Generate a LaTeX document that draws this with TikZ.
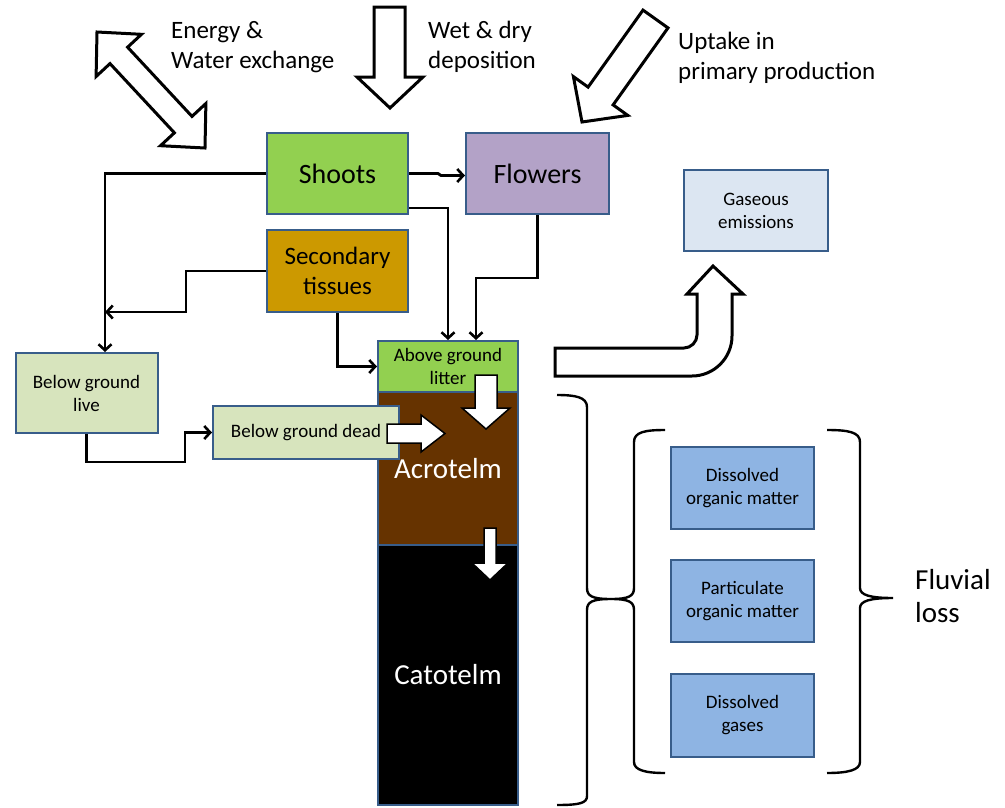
\documentclass[tikz,border=0pt]{standalone}
\usepackage{fontspec}
\setmainfont{Carlito}
\usetikzlibrary{arrows.meta,calc}
\definecolor{bordc}{RGB}{56,93,138}
\definecolor{shootg}{RGB}{146,208,80}
\definecolor{flowc}{RGB}{179,162,199}
\definecolor{secc}{RGB}{204,153,0}
\definecolor{gasc}{RGB}{220,230,242}
\definecolor{bgc}{RGB}{215,228,189}
\definecolor{acroc}{RGB}{102,51,0}
\definecolor{fluvc}{RGB}{142,180,227}
\tikzset{
  box/.style={draw=bordc, line width=2pt, inner sep=0pt, align=center, text=black},
  bigtxt/.style={font=\fontsize{28}{33}\selectfont},
  medtxt/.style={font=\fontsize{25}{30}\selectfont},
  smalltxt/.style={font=\fontsize{19}{23}\selectfont},
  conn/.style={draw=black, line width=2.8pt, -{Straight Barb[length=6pt,width=13pt,line width=2.6pt]}},
  blockarrow/.style={draw=black, fill=white, line width=3pt, line join=miter},
  whitearrow/.style={draw=black, fill=white, line width=1.5pt, line join=miter},
  bracestyle/.style={draw=black, line width=2.4pt},
  lbl/.style={anchor=west, align=left, inner sep=0pt, font=\fontsize{25}{30}\selectfont}
}
\begin{document}
\begin{tikzpicture}[x=1pt,y=-1pt]
\useasboundingbox (0,0) rectangle (1005,807);

% --- top plant boxes
\node[box, bigtxt, fill=shootg, minimum width=141pt, minimum height=81pt] (shoots) at (337.5,173.5) {Shoots};
\node[box, bigtxt, fill=flowc, minimum width=143pt, minimum height=81pt] (flowers) at (537.5,173.5) {Flowers};
\node[box, medtxt, fill=secc, minimum width=141pt, minimum height=82pt] (sec) at (337.5,271) {Secondary\\tissues};
\node[box, smalltxt, fill=gasc, minimum width=144pt, minimum height=81pt] (gas) at (756,210.5) {Gaseous\\emissions};
\node[box, smalltxt, fill=bgc, minimum width=142pt, minimum height=80pt] (bgl) at (86.5,393) {Below ground\\live};

% --- peat column
\node[box, fill=acroc, text=white, font=\fontsize{29}{34}\selectfont, minimum width=140pt, minimum height=153pt] (acro) at (448,468.5) {\raisebox{-4pt}{Acrotelm}};
\node[box, fill=black, text=white, font=\fontsize{29}{34}\selectfont, minimum width=140pt, minimum height=260pt] (cato) at (448,675) {Catotelm};
\node[box, smalltxt, fill=shootg, minimum width=140pt, minimum height=51pt] (litter) at (448,366.5) {Above ground\\litter};
\node[box, smalltxt, fill=bgc, minimum width=186pt, minimum height=53pt] (bgd) at (306,432.5) {Below ground dead};

% --- fluvial boxes
\node[box, smalltxt, fill=fluvc, minimum width=143pt, minimum height=82pt] (dom) at (742.5,488) {Dissolved\\organic matter};
\node[box, smalltxt, fill=fluvc, minimum width=143pt, minimum height=82pt] (pom) at (742.5,601) {Particulate\\organic matter};
\node[box, smalltxt, fill=fluvc, minimum width=143pt, minimum height=83pt] (dg) at (742.5,715.5) {Dissolved\\gases};

% --- labels
\node[lbl] (lenergy) at (171,47) {Energy \&\\Water exchange};
\node[lbl] (lwet) at (428,47) {Wet \& dry\\deposition};
\node[lbl] (luptake) at (678,57.5) {Uptake in\\primary production};
\node[anchor=west, align=left, inner sep=0pt, font=\fontsize{29}{33}\selectfont] (lfluv) at (915,596.5) {Fluvial\\loss};

% --- connectors
\coordinate (jl) at (105,0);
\coordinate (js) at (186,0);
\draw[conn] (shoots.west) -| (jl |- bgl.north);
\draw[conn] (sec.west) -| (js |- 0,312) -- (jl |- 0,312);
\draw[conn] (shoots.east) -- ++(29,0) -- ++(3,2) -- ($(flowers.west)+(0,2)$);
\draw[conn] ($(shoots.east)+(0,34.5)$) -| (litter.north);
\draw[conn] (flowers.south) -- ++(0,63) -| ($(litter.north)+(28,0)$);
\draw[conn] (sec.south) |- (litter.west);
\draw[conn] (bgl.south) -- ++(0,28) -| ($(bgd.west)+(-27,0)$) -- (bgd.west);

% --- white arrows inside the column
\draw[whitearrow] (475,375) -- (497,375) -- (497,408) -- (510,408) -- (486,429) -- (462,408) -- (475,408) -- cycle;
\draw[whitearrow] (387,424) -- (421,424) -- (421,415) -- (445,433.5) -- (421,452) -- (421,443) -- (387,443) -- cycle;
\draw[whitearrow] (484,528) -- (496,528) -- (496,563) -- (508,563) -- (490,580) -- (472,563) -- (484,563) -- cycle;

% --- big outlined arrows
\draw[blockarrow] (97,32) -- (141.5,34.3) -- (127.6,47.2) -- (192,116.4) -- (205.9,103.5) -- (205,148) -- (160.5,145.7) -- (174.4,132.8) -- (110,63.6) -- (96.1,76.5) -- cycle;
\draw[blockarrow] (374,7) -- (405,7) -- (405,77) -- (423,77) -- (390,108) -- (357,77) -- (374,77) -- cycle;
\draw[blockarrow] (643,10.1) -- (668,27.9) -- (613.1,104.9) -- (627.8,115.4) -- (582,122) -- (573.4,76.6) -- (588.1,87.1) -- cycle;
\draw[blockarrow] (555,348) -- (684,348) .. controls (691,348) and (697,342) .. (697,335) -- (697,294) -- (687,294) -- (713,266) -- (743,294) -- (732,294) -- (732,336) .. controls (732,358) and (714,376) .. (692,376) -- (555,376) -- cycle;

% --- braces
\draw[bracestyle] (557,395) .. controls (575,395) and (587,397) .. (587,407) -- (587,588) .. controls (587,596) and (592,599) .. (611,599) .. controls (592,599) and (587,602) .. (587,610) -- (587,796) .. controls (587,803) and (580,805) .. (557,805);
\draw[bracestyle] (665,430) .. controls (645,430) and (634,432) .. (634,442) -- (634,588) .. controls (634,596) and (629,599) .. (611,599) .. controls (629,599) and (634,602) .. (634,610) -- (634,762) .. controls (634,770) and (645,773) .. (665,773);
\draw[bracestyle] (827,430) .. controls (848,430) and (860,432) .. (860,442) -- (860,588) .. controls (860,595) and (870,598) .. (893,598) .. controls (870,598) and (860,601) .. (860,608) -- (860,762) .. controls (860,770) and (848,773) .. (827,773);
\end{tikzpicture}
\end{document}
